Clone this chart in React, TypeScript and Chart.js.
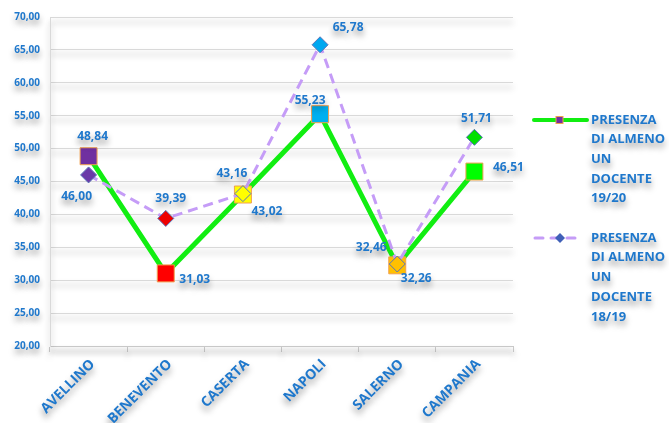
import React, { useEffect, useRef } from "react";
import { Chart, registerables } from "chart.js";

Chart.register(...registerables);

const categories = ["AVELLINO", "BENEVENTO", "CASERTA", "NAPOLI", "SALERNO", "CAMPANIA"];
const presenza1920 = [48.84, 31.03, 43.02, 55.23, 32.26, 46.51];
const presenza1819 = [46.0, 39.39, 43.16, 65.78, 32.46, 51.71];
const label1920 = ["PRESENZA", "DI ALMENO", "UN", "DOCENTE", "19/20"];
const label1819 = ["PRESENZA", "DI ALMENO", "UN", "DOCENTE", "18/19"];
const yMin = 20;
const yMax = 70;
const yStep = 5;

const squareColors = ["#7030a0", "#ff0000", "#ffff00", "#00b0f0", "#ffc000", "#00ff00"];
const diamondColors = ["#6a3aa8", "#ee0000", "#ffff00", "#00a8f0", "#ffc000", "#00e000"];

// label offsets (dx, dy) relative to each point
const offsets1920 = [[4, -20], [29, 6], [24, 17], [-10, -14], [19, 13], [34, -4]];
const offsets1819 = [[-12, 22], [5, -20], [-11, -20], [28, -17], [-26, -16], [2, -19]];

const BLUE = "#1f78cc";
const FONT = "'Open Sans', sans-serif";

const fmt = (v: number) => v.toFixed(2).replace(".", ",");

const setShadow = (ctx: CanvasRenderingContext2D) => {
  ctx.shadowColor = "rgba(0,0,0,0.4)";
  ctx.shadowBlur = 6;
  ctx.shadowOffsetX = 0;
  ctx.shadowOffsetY = 5;
};
const clearShadow = (ctx: CanvasRenderingContext2D) => {
  ctx.shadowColor = "rgba(0,0,0,0)";
  ctx.shadowBlur = 0;
  ctx.shadowOffsetX = 0;
  ctx.shadowOffsetY = 0;
};

const shadowPlugin = {
  id: "shadowPlugin",
  beforeDraw(chart: any) {
    setShadow(chart.ctx);
  },
  beforeDatasetsDraw(chart: any) {
    clearShadow(chart.ctx);
  },
};

const labelsPlugin = {
  id: "valueLabels",
  afterDatasetsDraw(chart: any) {
    const ctx = chart.ctx as CanvasRenderingContext2D;
    ctx.save();
    setShadow(ctx);
    ctx.font = `bold 12px ${FONT}`;
    ctx.fillStyle = BLUE;
    ctx.textAlign = "center";
    ctx.textBaseline = "middle";
    const offs = [offsets1920, offsets1819];
    chart.data.datasets.forEach((ds: any, di: number) => {
      const meta = chart.getDatasetMeta(di);
      meta.data.forEach((pt: any, i: number) => {
        const [dx, dy] = offs[di][i];
        ctx.fillText(fmt(ds.data[i]), pt.x + dx, pt.y + dy);
      });
    });
    ctx.restore();
  },
};

const legendPlugin = {
  id: "customLegend",
  afterDraw(chart: any) {
    const ctx = chart.ctx as CanvasRenderingContext2D;
    ctx.save();
    // item 1
    const y1 = 120;
    ctx.strokeStyle = "#11ee11";
    ctx.lineWidth = 4;
    ctx.lineCap = "round";
    ctx.beginPath();
    ctx.moveTo(534, y1);
    ctx.lineTo(587, y1);
    ctx.stroke();
    ctx.fillStyle = "#7030a0";
    ctx.strokeStyle = "#f0a050";
    ctx.lineWidth = 1;
    ctx.fillRect(556, y1 - 3.5, 7, 7);
    ctx.strokeRect(556, y1 - 3.5, 7, 7);
    // item 2
    const y2 = 238;
    ctx.strokeStyle = "#c59cf7";
    ctx.lineWidth = 3;
    ctx.lineCap = "round";
    ctx.setLineDash([8, 8]);
    ctx.beginPath();
    ctx.moveTo(535, y2);
    ctx.lineTo(583, y2);
    ctx.stroke();
    ctx.setLineDash([]);
    ctx.fillStyle = "#4060b8";
    ctx.beginPath();
    ctx.moveTo(560, y2 - 5);
    ctx.lineTo(565, y2);
    ctx.lineTo(560, y2 + 5);
    ctx.lineTo(555, y2);
    ctx.closePath();
    ctx.fill();
    // texts
    setShadow(ctx);
    ctx.fillStyle = BLUE;
    ctx.font = `bold 13px ${FONT}`;
    ctx.textAlign = "left";
    ctx.textBaseline = "middle";
    label1920.forEach((t, i) => ctx.fillText(t, 591, y1 + i * 19.6));
    label1819.forEach((t, i) => ctx.fillText(t, 591, y2 + i * 19.7));
    ctx.restore();
  },
};

export default function App() {
  const ref = useRef<HTMLCanvasElement>(null);
  useEffect(() => {
    document.body.style.margin = "0";
    const chart = new Chart(ref.current as HTMLCanvasElement, {
      type: "line",
      data: {
        labels: categories,
        datasets: [
          {
            label: label1920.join(" "),
            data: presenza1920,
            borderColor: "#11ee11",
            borderWidth: 5,
            pointStyle: "rect",
            pointRadius: 12,
            pointHoverRadius: 12,
            pointBackgroundColor: squareColors,
            pointBorderColor: "#f0a050",
            pointBorderWidth: 1,
            tension: 0,
            order: 2,
          },
          {
            label: label1819.join(" "),
            data: presenza1819,
            borderColor: "#c59cf7",
            borderWidth: 3,
            borderDash: [10, 6],
            pointStyle: "rectRot",
            pointRadius: 8,
            pointHoverRadius: 8,
            pointBackgroundColor: diamondColors,
            pointBorderColor: "#5a74b8",
            pointBorderWidth: 1,
            tension: 0,
            order: 1,
          },
        ],
      },
      options: {
        animation: false,
        responsive: false,
        maintainAspectRatio: false,
        layout: { padding: { top: 17, right: 156, left: 0, bottom: 0 } },
        plugins: {
          legend: { display: false },
          tooltip: { enabled: false },
        },
        scales: {
          x: {
            offset: true,
            grid: {
              offset: true,
              drawOnChartArea: false,
              drawTicks: true,
              tickLength: 6,
              color: "#cfcfcf",
            },
            border: { color: "#c8c8c8" },
            ticks: {
              minRotation: 45,
              maxRotation: 45,
              color: BLUE,
              padding: 4,
              labelOffset: 4,
              font: { family: FONT, weight: "bold", size: 14 },
            },
            afterFit: (s: any) => {
              s.height = 77;
            },
          },
          y: {
            min: yMin,
            max: yMax,
            grid: { color: "#d9d9d9", drawTicks: false },
            border: { color: "#d9d9d9" },
            ticks: {
              stepSize: yStep,
              padding: 10,
              color: BLUE,
              font: { family: FONT, weight: "bold", size: 10 },
              callback: (v: any) => fmt(Number(v)),
            },
            afterFit: (s: any) => {
              s.width = 50;
            },
          },
        },
      },
      plugins: [shadowPlugin, labelsPlugin, legendPlugin],
    } as any);
    return () => chart.destroy();
  }, []);
  return (
    <div style={{ width: 669, height: 423, position: "relative", background: "#fff" }}>
      <canvas ref={ref} width={669} height={423} style={{ display: "block" }} />
    </div>
  );
}
